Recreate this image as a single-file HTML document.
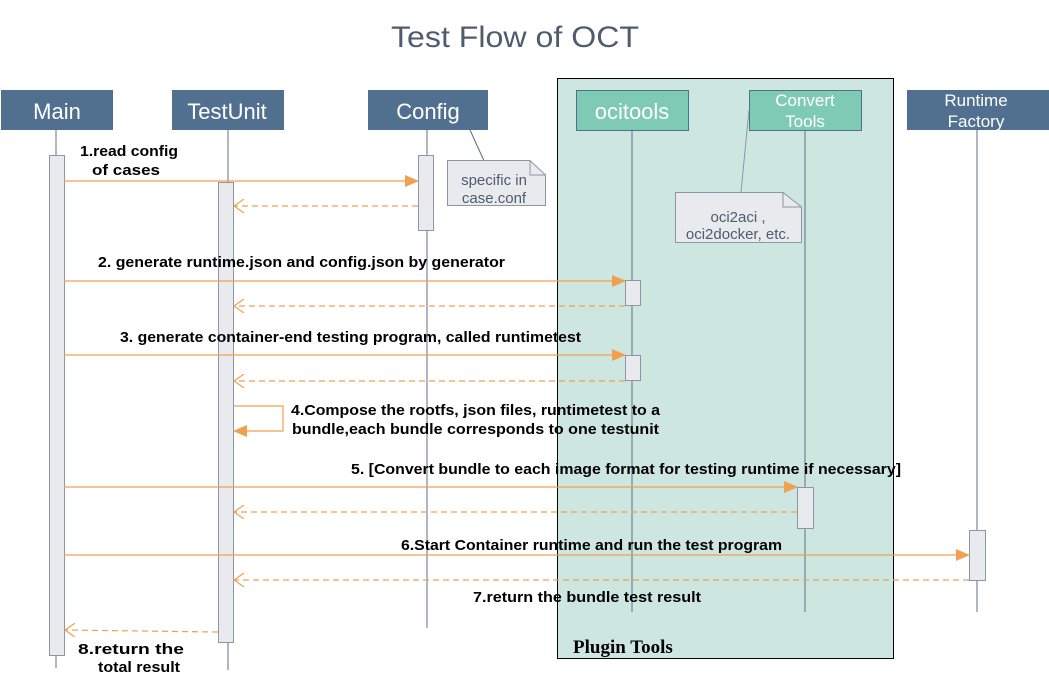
<!DOCTYPE html>
<html><head><meta charset="utf-8"><style>
html,body{margin:0;padding:0;background:#fff;}
svg{display:block;}
.t{font-family:"Liberation Sans",sans-serif;}
.b{font-family:"Liberation Sans",sans-serif;font-weight:bold;font-size:15px;fill:#000;}
</style></head><body>
<svg width="1049" height="677" xmlns="http://www.w3.org/2000/svg">
<defs>
<marker id="fa" markerWidth="14" markerHeight="12" refX="13" refY="6" orient="auto" markerUnits="userSpaceOnUse"><path d="M0,0 L14,6 L0,12 z" fill="#f0a050"/></marker>
<marker id="oa2" markerWidth="12" markerHeight="14" refX="11" refY="7" orient="auto" markerUnits="userSpaceOnUse"><path d="M1,0 L11,7 L1,14" fill="none" stroke="#f0a050" stroke-width="1.2"/></marker>
</defs>
<text class="t" x="391" y="47" textLength="248" lengthAdjust="spacingAndGlyphs" font-size="30" fill="#4f5b6e">Test Flow of OCT</text>
<rect x="557.5" y="78.5" width="336" height="580" fill="#cde6df" stroke="#000" stroke-width="1"/>
<text x="573" y="653" font-family="Liberation Serif,serif" font-weight="bold" font-size="19" fill="#000">Plugin Tools</text>
<g stroke="#5a7088" stroke-width="1">
<line x1="56" y1="130" x2="56" y2="668"/>
<line x1="228" y1="130" x2="228" y2="670"/>
<line x1="427" y1="130" x2="427" y2="628"/>
<line x1="632" y1="130" x2="632" y2="612"/>
<line x1="805" y1="130" x2="805" y2="612"/>
<line x1="977" y1="130" x2="977" y2="612"/>
</g>
<rect x="1" y="90" width="112" height="40" fill="#517090"/>
<text class="t" x="57" y="119" text-anchor="middle" font-size="22" fill="#fff">Main</text>
<rect x="172" y="90" width="112" height="40" fill="#517090"/>
<text class="t" x="227" y="119" text-anchor="middle" font-size="22" fill="#fff">TestUnit</text>
<rect x="368" y="90" width="120" height="40" fill="#517090"/>
<text class="t" x="428" y="119" text-anchor="middle" font-size="22" fill="#fff">Config</text>
<rect x="576.5" y="90.5" width="112" height="40" fill="#7fcab3" stroke="#517090"/>
<text class="t" x="632" y="119" text-anchor="middle" font-size="22" fill="#fff">ocitools</text>
<rect x="749.5" y="90.5" width="112" height="40" fill="#7fcab3" stroke="#517090"/>
<text class="t" x="805" y="106" text-anchor="middle" font-size="17" fill="#fff">Convert</text>
<text class="t" x="805" y="127" text-anchor="middle" font-size="17" fill="#fff">Tools</text>
<rect x="907" y="90" width="142" height="40" fill="#517090"/>
<text class="t" x="976" y="106" text-anchor="middle" font-size="17" fill="#fff">Runtime</text>
<text class="t" x="976" y="127" text-anchor="middle" font-size="17" fill="#fff">Factory</text>
<line x1="470" y1="130" x2="485" y2="163" stroke="#517090"/>
<path d="M447.5,160.5 H530 L545.5,175 V205.5 H447.5 Z" fill="#e9eaee" stroke="#8c96a6"/>
<path d="M530,160.5 V175 H545.5" fill="none" stroke="#8c96a6"/>
<text class="t" x="494" y="185" text-anchor="middle" font-size="15" fill="#4f5b6e">specific in</text>
<text class="t" x="494" y="203" text-anchor="middle" font-size="15" fill="#4f5b6e">case.conf</text>
<line x1="749" y1="110" x2="741" y2="192" stroke="#8c96a6"/>
<path d="M675.5,192.5 H783 L801.5,207 V242.5 H675.5 Z" fill="#e9eaee" stroke="#8c96a6"/>
<path d="M783,192.5 V207 H801.5" fill="none" stroke="#8c96a6"/>
<text class="t" x="738" y="222" text-anchor="middle" font-size="15" fill="#4f5b6e">oci2aci ,</text>
<text class="t" x="738" y="239" text-anchor="middle" font-size="15" fill="#4f5b6e">oci2docker, etc.</text>
<g fill="#e9eaee" stroke="#8c96a6">
<rect x="49.5" y="155.5" width="15" height="500"/>
<rect x="218.5" y="182.5" width="15" height="460"/>
<rect x="418.5" y="155.5" width="15" height="75"/>
<rect x="625.5" y="280.5" width="15" height="25"/>
<rect x="625.5" y="355.5" width="15" height="25"/>
<rect x="797.5" y="487.5" width="16" height="41"/>
<rect x="969.5" y="530.5" width="16" height="50"/>
</g>
<g stroke="#f0a050" stroke-width="1.2" fill="none">
<line x1="64" y1="181" x2="418" y2="181" marker-end="url(#fa)"/>
<line x1="418" y1="206" x2="234" y2="206" stroke-dasharray="6,4" marker-end="url(#oa2)"/>
<line x1="64" y1="281" x2="625" y2="281" marker-end="url(#fa)"/>
<line x1="625" y1="306" x2="234" y2="306" stroke-dasharray="6,4" marker-end="url(#oa2)"/>
<line x1="64" y1="355" x2="625" y2="355" marker-end="url(#fa)"/>
<line x1="625" y1="381" x2="234" y2="381" stroke-dasharray="6,4" marker-end="url(#oa2)"/>
<path d="M234,406 H283 V431 H234" marker-end="url(#fa)"/>
<line x1="64" y1="487" x2="797" y2="487" marker-end="url(#fa)"/>
<line x1="797" y1="512" x2="234" y2="512" stroke-dasharray="6,4" marker-end="url(#oa2)"/>
<line x1="64" y1="555" x2="969" y2="555" marker-end="url(#fa)"/>
<line x1="969" y1="580" x2="234" y2="580" stroke-dasharray="6,4" marker-end="url(#oa2)"/>
<line x1="218" y1="632" x2="65" y2="630" stroke-dasharray="6,4" marker-end="url(#oa2)"/>
</g>
<g class="b">
<text class="b" x="80" y="156" textLength="98" lengthAdjust="spacingAndGlyphs">1.read config</text>
<text class="b" x="92" y="175" textLength="68" lengthAdjust="spacingAndGlyphs">of cases</text>
<text class="b" x="98" y="267" textLength="407" lengthAdjust="spacingAndGlyphs">2. generate runtime.json and config.json by generator</text>
<text class="b" x="120" y="342" textLength="461" lengthAdjust="spacingAndGlyphs">3. generate container-end testing program, called runtimetest</text>
<text class="b" x="291" y="415" textLength="369" lengthAdjust="spacingAndGlyphs">4.Compose the rootfs,  json files, runtimetest to a</text>
<text class="b" x="292" y="434" textLength="367" lengthAdjust="spacingAndGlyphs">bundle,each bundle corresponds to one testunit</text>
<text class="b" x="351" y="474" textLength="550" lengthAdjust="spacingAndGlyphs">5.  [Convert bundle to each image format for testing runtime if necessary]</text>
<text class="b" x="401" y="550" textLength="381" lengthAdjust="spacingAndGlyphs">6.Start Container runtime and run the test program</text>
<text class="b" x="473" y="602" textLength="228" lengthAdjust="spacingAndGlyphs">7.return  the bundle test result</text>
<text class="b" x="78" y="654" textLength="106" lengthAdjust="spacingAndGlyphs">8.return  the</text>
<text class="b" x="98" y="672" textLength="82" lengthAdjust="spacingAndGlyphs">total result</text>
</g>
</svg>
</body></html>
